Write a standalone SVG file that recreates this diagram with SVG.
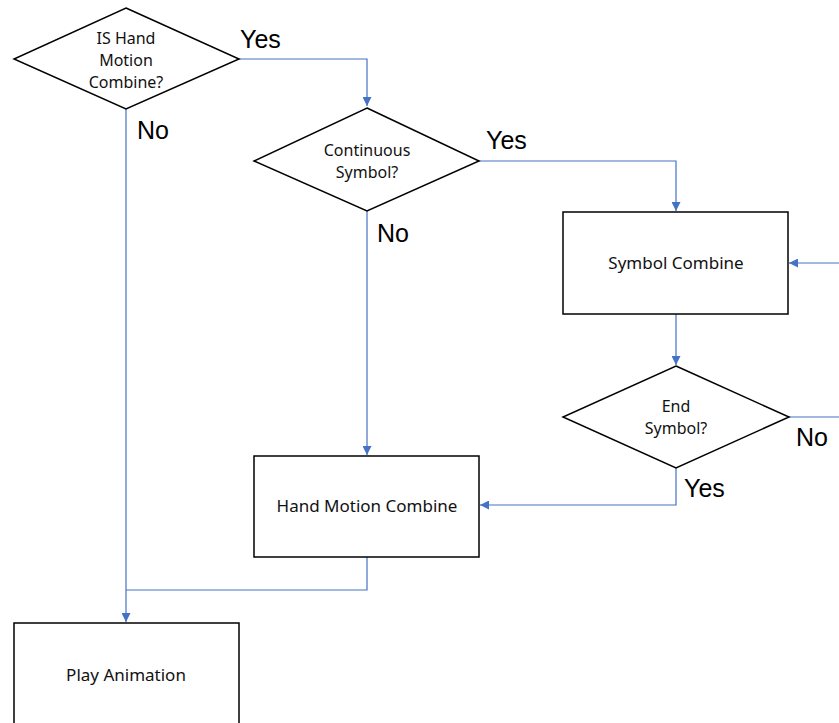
<svg xmlns="http://www.w3.org/2000/svg" width="839" height="723" viewBox="0 0 839 723">
  <style>
    .shape { fill: #ffffff; stroke: #000000; stroke-width: 1.5; }
    .node-text { font-family: "Noto Sans", "Open Sans", sans-serif; font-size: 17px; fill: #111111; text-anchor: middle; }
    .node-text.small { font-size: 16px; }
    .edge { fill: none; stroke: #4472C4; stroke-width: 1.2; }
    .edge-label { font-family: "Liberation Sans", Arial, sans-serif; font-size: 25px; fill: #000000; }
  </style>
  <defs>
    <marker id="arrow" viewBox="0 0 10 10" refX="10" refY="5" markerWidth="9" markerHeight="9" markerUnits="userSpaceOnUse" orient="auto">
      <path d="M0,0 L10,5 L0,10 z" fill="#4472C4"/>
    </marker>
  </defs>
  <rect width="839" height="723" fill="#ffffff"/>

  <g id="connectors">
    <!-- IS Hand Motion Combine? : Yes -->
    <path class="edge" d="M239,59 H367 V106" marker-end="url(#arrow)"/>
    <!-- IS Hand Motion Combine? : No -->
    <path class="edge" d="M126,109 V622" marker-end="url(#arrow)"/>
    <!-- Continuous Symbol? : Yes -->
    <path class="edge" d="M479,161 H676 V211" marker-end="url(#arrow)"/>
    <!-- Continuous Symbol? : No -->
    <path class="edge" d="M367,211 V455" marker-end="url(#arrow)"/>
    <!-- Symbol Combine to End Symbol? -->
    <path class="edge" d="M676,314 V365" marker-end="url(#arrow)"/>
    <!-- End Symbol? : Yes -->
    <path class="edge" d="M676,468 V505 H480" marker-end="url(#arrow)"/>
    <!-- End Symbol? : No (loops back from the right edge) -->
    <path class="edge" d="M789,417 H839"/>
    <path class="edge" d="M839,263 H789" marker-end="url(#arrow)"/>
    <!-- Hand Motion Combine joins the line to Play Animation -->
    <path class="edge" d="M367,557 V590 H126"/>

    <text class="edge-label" x="240" y="48">Yes</text>
    <text class="edge-label" x="137" y="139">No</text>
    <text class="edge-label" x="486" y="149">Yes</text>
    <text class="edge-label" x="377" y="242">No</text>
    <text class="edge-label" x="796" y="446">No</text>
    <text class="edge-label" x="684" y="497">Yes</text>
  </g>

  <g id="is-hand-motion-combine">
    <polygon class="shape" points="126,8 239,59 126,109 14,59"/>
    <text class="node-text small" x="126" y="44">IS Hand</text>
    <text class="node-text small" x="126" y="66">Motion</text>
    <text class="node-text small" x="126" y="88">Combine?</text>
  </g>

  <g id="continuous-symbol">
    <polygon class="shape" points="367,108 479,161 367,211 254,161"/>
    <text class="node-text small" x="367" y="156">Continuous</text>
    <text class="node-text small" x="367" y="178">Symbol?</text>
  </g>

  <g id="symbol-combine">
    <rect class="shape" x="563" y="212" width="225" height="102"/>
    <text class="node-text" x="676" y="269">Symbol Combine</text>
  </g>

  <g id="end-symbol">
    <polygon class="shape" points="676,366 789,417 676,468 563,417"/>
    <text class="node-text small" x="676" y="412">End</text>
    <text class="node-text small" x="676" y="434">Symbol?</text>
  </g>

  <g id="hand-motion-combine">
    <rect class="shape" x="254" y="456" width="225" height="101"/>
    <text class="node-text" x="367" y="512">Hand Motion Combine</text>
  </g>

  <g id="play-animation">
    <rect class="shape" x="14" y="623" width="225" height="110"/>
    <text class="node-text" x="126" y="681">Play Animation</text>
  </g>
</svg>
